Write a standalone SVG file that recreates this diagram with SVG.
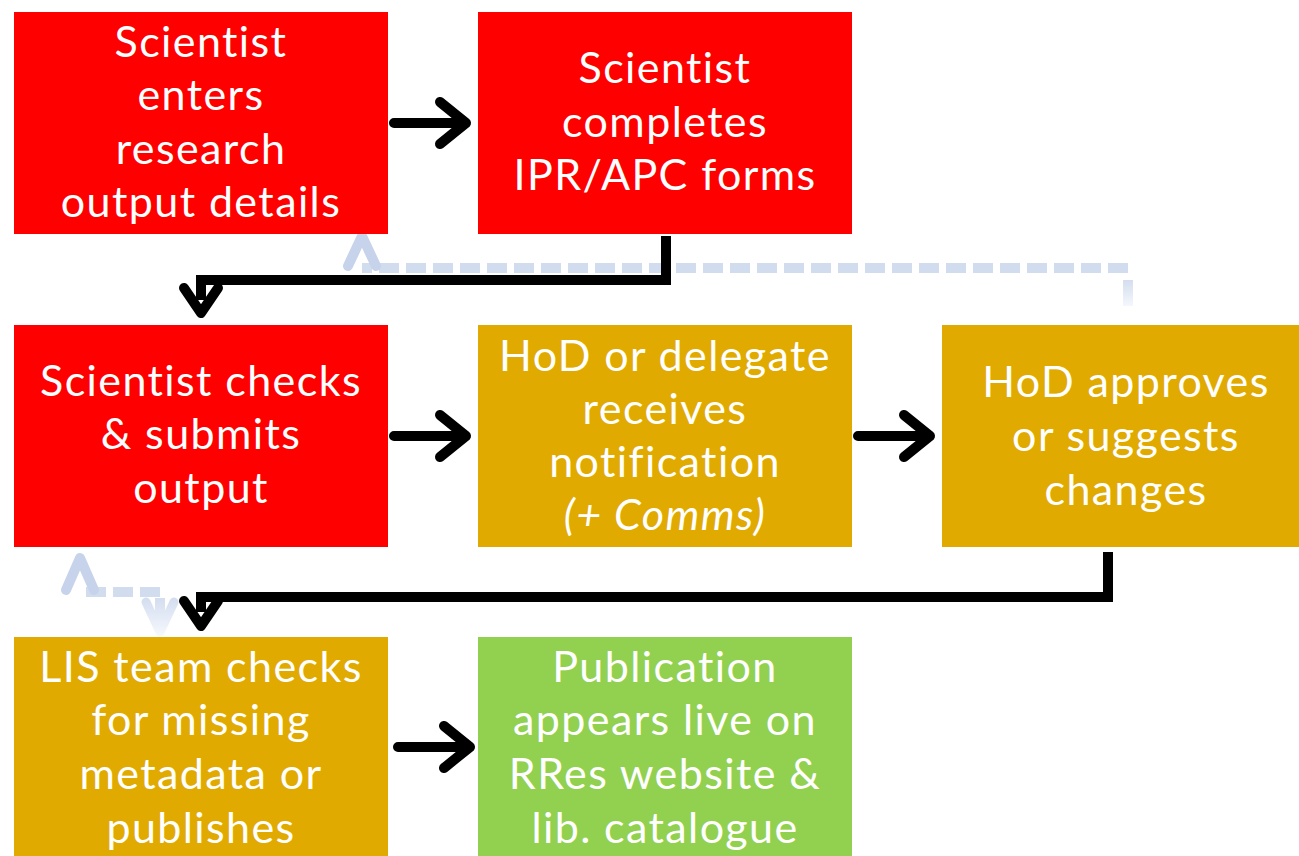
<svg xmlns="http://www.w3.org/2000/svg" width="1299" height="856" viewBox="0 0 1299 856">
<defs>
<style>
.red{fill:#FF0000}
.gold{fill:#E1AA00}
.green{fill:#92D050}
text{font-family:"Lato","Open Sans","Liberation Sans",sans-serif;font-size:43px;letter-spacing:1.4px;fill:#FFFFFF;text-anchor:middle}
.blk{fill:none;stroke:#000;stroke-width:10;stroke-linecap:round;stroke-linejoin:round}
.elb{fill:none;stroke:#000;stroke-width:10;stroke-linejoin:miter}
.dsh{fill:none;stroke:#D2DCEF;stroke-width:10;stroke-dasharray:20 7}
.bhd{fill:none;stroke:#C6D3EB;stroke-width:10;stroke-linecap:round;stroke-linejoin:round}
</style>
<linearGradient id="fade1" gradientUnits="userSpaceOnUse" x1="0" y1="278" x2="0" y2="306">
<stop offset="0" stop-color="#D2DCEF"/>
<stop offset="1" stop-color="#F4F7FC"/>
</linearGradient>
<linearGradient id="fade2" gradientUnits="userSpaceOnUse" x1="0" y1="596" x2="0" y2="634">
<stop offset="0" stop-color="#D2DCEF"/>
<stop offset="1" stop-color="#F4F7FC"/>
</linearGradient>
</defs>
<rect width="1299" height="856" fill="#FFFFFF"/>
<g id="connectors">
<g id="feedback1">
<path class="dsh" d="M1128,268 H362"/>
<rect x="1123" y="280" width="10" height="26" fill="url(#fade1)"/>
<path class="bhd" d="M348,266 L362,236 L376,266"/>
</g>
<g id="feedback2">
<path class="dsh" d="M160,592 H80"/>
<rect x="155" y="598" width="10" height="34" fill="url(#fade2)"/>
<path class="bhd" d="M66,590 L80,558 L94,590"/>
<path d="M146,602 L160,632 L174,602" fill="none" stroke="url(#fade2)" stroke-width="9" stroke-linecap="round" stroke-linejoin="round"/>
</g>
<path class="blk" d="M394,123 H464 M440,102 L466,123 L440,144"/>
<path class="blk" d="M394,436 H464 M440,415 L466,436 L440,457"/>
<path class="blk" d="M858,436 H928 M904,415 L930,436 L904,457"/>
<path class="blk" d="M398,747 H468 M444,726 L470,747 L444,768"/>
<path class="elb" d="M666,236 V280 H201 V300"/>
<path class="blk" d="M184,288 L201,313 L218,288"/>
<path class="elb" d="M1108,552 V597 H201 V612"/>
<path class="blk" d="M184,601 L201,626 L218,601"/>
</g>
<g id="nodeA"><rect class="red" x="14" y="12" width="374" height="222"/>
<text><tspan x="201" y="57">Scientist</tspan><tspan x="201" y="110">enters</tspan><tspan x="201" y="164">research</tspan><tspan x="201" y="217">output details</tspan></text></g>
<g id="nodeB"><rect class="red" x="478" y="12" width="374" height="222"/>
<text><tspan x="665" y="83">Scientist</tspan><tspan x="665" y="137">completes</tspan><tspan x="665" y="190">IPR/APC forms</tspan></text></g>
<g id="nodeC"><rect class="red" x="14" y="325" width="374" height="222"/>
<text><tspan x="201" y="396">Scientist checks</tspan><tspan x="201" y="449">&amp; submits</tspan><tspan x="201" y="503">output</tspan></text></g>
<g id="nodeD"><rect class="gold" x="478" y="325" width="374" height="222"/>
<text><tspan x="665" y="371">HoD or delegate</tspan><tspan x="665" y="424">receives</tspan><tspan x="665" y="477">notification</tspan><tspan x="665" y="530" font-style="italic">(+ Comms)</tspan></text></g>
<g id="nodeE"><rect class="gold" x="942" y="325" width="357" height="222"/>
<text><tspan x="1126" y="397">HoD approves</tspan><tspan x="1126" y="451">or suggests</tspan><tspan x="1126" y="505">changes</tspan></text></g>
<g id="nodeF"><rect class="gold" x="14" y="637" width="374" height="219"/>
<text><tspan x="201" y="682">LIS team checks</tspan><tspan x="201" y="735">for missing</tspan><tspan x="201" y="789">metadata or</tspan><tspan x="201" y="843">publishes</tspan></text></g>
<g id="nodeG"><rect class="green" x="478" y="637" width="374" height="219"/>
<text><tspan x="665" y="682">Publication</tspan><tspan x="665" y="735">appears live on</tspan><tspan x="665" y="789">RRes website &amp;</tspan><tspan x="665" y="843">lib. catalogue</tspan></text></g>
</svg>
